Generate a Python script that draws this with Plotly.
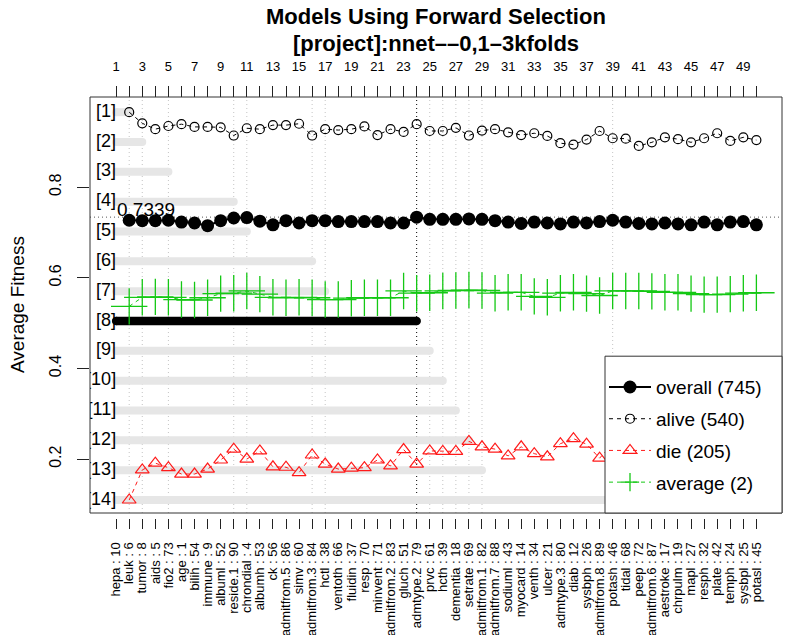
import plotly.graph_objects as go
import numpy as np

# ---------------- data ----------------
var_labels = ["hepa : 10", "leuk : 6", "tumor : 8", "aids : 5", "fio2 : 73", "age : 1",
              "bilih : 54", "immune : 9", "albuml : 52", "reside.1 : 90", "chrondial : 4",
              "albumh : 53", "ck : 56", "admitfrom.5 : 86", "simv : 60", "admitfrom.3 : 84",
              "hctl : 38", "ventoth : 66", "fluidin : 37", "resp : 70", "minvent : 71",
              "admitfrom.2 : 83", "gluch : 51", "admtype.2 : 79", "prvc : 61", "hcth : 39",
              "dementia : 18", "setrate : 69", "admitfrom.1 : 82", "admitfrom.7 : 88",
              "sodiuml : 43", "myocard : 14", "venth : 34", "ulcer : 21", "admtype.3 : 80",
              "diab : 12", "sysbph : 26", "admitfrom.8 : 89", "potash : 46", "tidal : 68",
              "peep : 72", "admitfrom.6 : 87", "aestroke : 17", "chrpulm : 19", "mapl : 27",
              "resph : 32", "plate : 42", "temph : 24", "sysbpl : 25", "potasl : 45"]
steps = list(range(1, 51))
top_labels = [str(s) if s % 2 == 1 else "" for s in steps]
model_x = list(range(2, 51))

overall = [0.727, 0.726, 0.726, 0.727, 0.723, 0.721, 0.715, 0.726, 0.732, 0.733,
           0.725, 0.717, 0.726, 0.721, 0.726, 0.726, 0.724, 0.724, 0.724, 0.724,
           0.721, 0.721, 0.7339, 0.729, 0.729, 0.729, 0.730, 0.729, 0.726, 0.723,
           0.720, 0.723, 0.721, 0.719, 0.723, 0.721, 0.724, 0.727, 0.723, 0.720,
           0.719, 0.721, 0.719, 0.717, 0.723, 0.717, 0.723, 0.724, 0.717]
alive = [0.9655, 0.941, 0.928, 0.935, 0.939, 0.933, 0.933, 0.932, 0.914, 0.930,
         0.928, 0.937, 0.937, 0.940, 0.914, 0.928, 0.926, 0.928, 0.934, 0.915,
         0.928, 0.922, 0.939, 0.924, 0.924, 0.931, 0.914, 0.925, 0.928, 0.921,
         0.915, 0.919, 0.913, 0.897, 0.894, 0.905, 0.924, 0.908, 0.907, 0.891,
         0.899, 0.910, 0.906, 0.899, 0.908, 0.919, 0.902, 0.910, 0.904]
die = [0.1097, 0.176, 0.191, 0.181, 0.167, 0.167, 0.178, 0.198, 0.222, 0.200,
       0.218, 0.183, 0.182, 0.170, 0.209, 0.189, 0.178, 0.180, 0.181, 0.198,
       0.185, 0.221, 0.189, 0.218, 0.217, 0.217, 0.239, 0.227, 0.222, 0.207,
       0.227, 0.212, 0.205, 0.234, 0.245, 0.233, 0.202, 0.234, 0.235, 0.251,
       0.241, 0.226, 0.230, 0.231, 0.218, 0.207, 0.226, 0.222, 0.230]
average = [0.537, 0.557, 0.558, 0.557, 0.552, 0.551, 0.556, 0.565, 0.566, 0.571,
           0.564, 0.557, 0.556, 0.557, 0.556, 0.552, 0.552, 0.555, 0.556, 0.556,
           0.556, 0.571, 0.566, 0.567, 0.571, 0.572, 0.573, 0.572, 0.566, 0.568,
           0.568, 0.559, 0.557, 0.566, 0.568, 0.565, 0.561, 0.571, 0.571, 0.571,
           0.570, 0.568, 0.568, 0.565, 0.563, 0.563, 0.564, 0.566, 0.567]

row_labels = ["[%d]" % i for i in range(1, 15)]
row_ends = [2, 3, 5, 10, 11, 16, 17, 24, 25, 26, 27, 28, 29, 39]
best_row = 7          # row [8]
best_value = 0.7339
best_step = 24

legend_names = ["overall (745)", "alive (540)", "die (205)", "average (2)"]
title_lines = ["Models Using Forward Selection", "[project]:nnet––0,1–3kfolds"]

# ---------------- layout helpers ----------------
FONT = "Liberation Sans, Arial, Helvetica, sans-serif"
W, H = 786, 635
ML, MR, MT, MB = 90, 4, 96.5, 117
paper_h = H - MT - MB
paper_w = W - ML - MR
d0 = 5 / paper_h
row_y = np.linspace(max(alive), min(die), len(row_labels))
GREY = "#E6E6E6"
GREEN = "#14C814"
RED = "#FF1A1A"


def py(pix):
    """pixel row (from top of canvas) -> paper y"""
    return (H - MB - pix) / paper_h


fig = go.Figure()

# grey row bars
bx, by = [], []
for i, (e, r) in enumerate(zip(row_ends, row_y)):
    if i == best_row:
        continue
    bx += [1, e, None]
    by += [r, r, None]
fig.add_trace(go.Scatter(x=bx, y=by, mode="lines+markers",
                         line=dict(color=GREY, width=8),
                         marker=dict(size=8, color=GREY),
                         showlegend=False, hoverinfo="skip"))
fig.add_trace(go.Scatter(x=[1, row_ends[best_row]], y=[row_y[best_row]] * 2,
                         mode="lines+markers", line=dict(color="black", width=8.5),
                         marker=dict(size=8.5, color="black"),
                         showlegend=False, hoverinfo="skip"))

# vertical dotted guides
for e in row_ends:
    fig.add_vline(x=e, line=dict(color="black" if e == best_step else "#C4C4C4",
                                 width=1, dash="1px,3px"), layer="below")
fig.add_hline(y=best_value, line=dict(color="#555555", width=1, dash="1px,3px"),
              layer="below")

# data series
fig.add_trace(go.Scatter(x=model_x, y=overall, name=legend_names[0], legendgroup="a",
                         mode="lines+markers", line=dict(color="black", width=2),
                         marker=dict(symbol="circle", size=13, color="black")))
fig.add_trace(go.Scatter(x=model_x, y=alive, name=legend_names[1], legendgroup="b",
                         mode="lines+markers",
                         line=dict(color="black", width=1, dash="4px,4px"),
                         marker=dict(symbol="circle-open", size=9, color="black",
                                     line=dict(width=1.2))))
fig.add_trace(go.Scatter(x=model_x, y=die, name=legend_names[2], legendgroup="c",
                         mode="lines+markers",
                         line=dict(color=RED, width=1, dash="4px,4px"),
                         marker=dict(symbol="triangle-up-open", size=12, color=RED,
                                     line=dict(width=1.2))))
fig.add_trace(go.Scatter(x=model_x, y=average, name=legend_names[3], legendgroup="d",
                         mode="lines+markers", showlegend=False,
                         line=dict(color=GREEN, width=1, dash="4px,4px"),
                         marker=dict(symbol="cross-thin", size=26, color=GREEN,
                                     line=dict(width=1.3, color=GREEN))))
# legend entry for the average series (smaller symbol, like the reference)
fig.add_trace(go.Scatter(x=[None], y=[None], name=legend_names[3], legendgroup="d",
                         mode="lines+markers",
                         line=dict(color=GREEN, width=1, dash="4px,4px"),
                         marker=dict(symbol="cross-thin", size=13, color=GREEN,
                                     line=dict(width=1.3, color=GREEN))))

# row labels (clipped by plot area)
fig.add_trace(go.Scatter(x=[1] * len(row_labels), y=row_y, text=row_labels,
                         mode="text", textposition="middle left",
                         textfont=dict(size=18, color="black", family=FONT),
                         xaxis="x2", cliponaxis=True,
                         showlegend=False, hoverinfo="skip"))

fig.add_annotation(x=1, y=best_value, text="%.4f" % best_value, showarrow=False,
                   xanchor="left", yanchor="bottom", yshift=-5, xshift=-1,
                   font=dict(size=19, color="black", family=FONT))

fig.add_annotation(xref="paper", yref="paper", x=-73 / paper_w, y=(1 + d0) / 2,
                   text="Average Fitness", textangle=-90, showarrow=False,
                   xanchor="center", yanchor="middle",
                   font=dict(size=19, color="black", family=FONT))

# two-line bold title
for txt, pix in zip(title_lines, [16, 43]):
    fig.add_annotation(xref="paper", yref="paper", x=0.5, y=py(pix),
                       text="<b>%s</b>" % txt, showarrow=False,
                       xanchor="center", yanchor="middle",
                       font=dict(size=22, color="black", family=FONT))

# plot box and legend box
fig.add_shape(type="rect", xref="paper", yref="paper", x0=0, x1=1, y0=d0, y1=1,
              line=dict(color="#333333", width=1), layer="above")
fig.add_shape(type="rect", xref="paper", yref="paper",
              x0=(605 - ML) / paper_w, x1=1, y0=d0, y1=py(356),
              fillcolor="white", line=dict(color="#333333", width=1), layer="above")

xr = [-1.0, 51.96]
fig.update_layout(
    width=W, height=H,
    margin=dict(l=ML, r=MR, t=MT, b=MB),
    paper_bgcolor="white", plot_bgcolor="white",
    font=dict(family=FONT, color="black"),
    xaxis=dict(range=xr, tickmode="array", tickvals=steps, ticktext=var_labels,
               tickangle=-90, ticks="outside", ticklen=10, tickcolor="#222222",
               showgrid=False, zeroline=False, showline=False,
               anchor="free", position=0, automargin=False,
               tickfont=dict(size=13, color="black"), ticklabelstandoff=8),
    xaxis2=dict(range=xr, overlaying="x", side="top", anchor="free", position=1,
                tickmode="array", tickvals=steps, ticktext=top_labels, tickangle=0,
                ticks="outside", ticklen=11, tickcolor="#222222",
                showgrid=False, zeroline=False, showline=False, automargin=False,
                tickfont=dict(size=13, color="black"), ticklabelstandoff=10),
    yaxis=dict(domain=[d0, 1], range=[0.081, 0.999], tickmode="array",
               tickvals=[0.2, 0.4, 0.6, 0.8], ticktext=["0.2", "0.4", "0.6", "0.8"],
               tickangle=-90, ticks="outside", ticklen=12, tickcolor="#222222",
               showgrid=False, zeroline=False, showline=False, automargin=False,
               tickfont=dict(size=16, color="black"), ticklabelstandoff=10),
    legend=dict(x=(604 - ML) / paper_w, xanchor="left",
                y=py(368), yanchor="top",
                bgcolor="rgba(0,0,0,0)", borderwidth=0,
                traceorder="grouped", tracegroupgap=4, itemwidth=42,
                font=dict(size=19, color="black", family=FONT)),
    showlegend=True,
)

fig.write_html("out.html", post_script="document.body.style.margin='0';",
               config={"displayModeBar": False})
